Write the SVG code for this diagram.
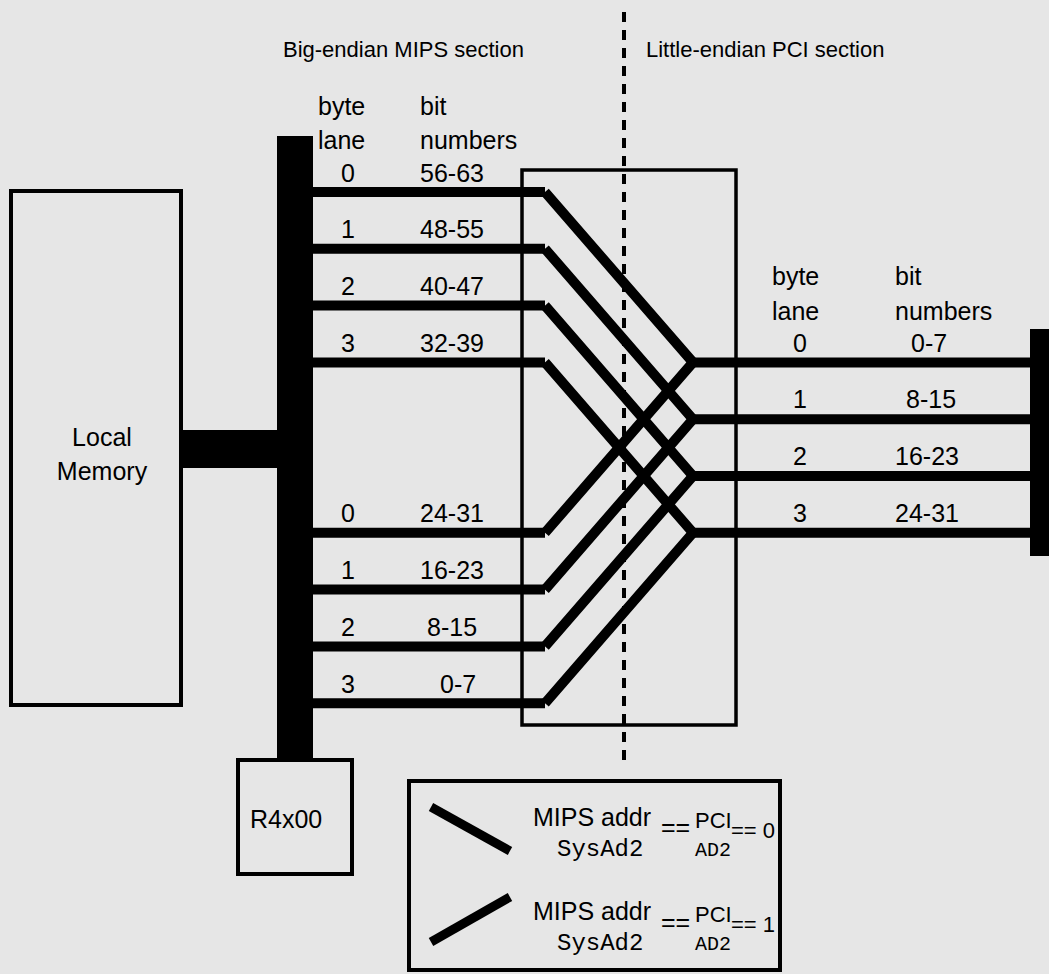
<svg xmlns="http://www.w3.org/2000/svg" width="1049" height="974" viewBox="0 0 1049 974">
<style>
.t{font-family:"Liberation Sans",Arial,sans-serif;font-size:25px;fill:#000}
.h{font-family:"Liberation Sans",Arial,sans-serif;font-size:22px;fill:#000}
.s{font-family:"Liberation Sans",Arial,sans-serif;font-size:22px;fill:#000}
.m{font-family:"Liberation Mono","Courier New",monospace;font-size:24px;fill:#000}
.ms{font-family:"Liberation Mono","Courier New",monospace;font-size:20px;fill:#000}
.box{fill:none;stroke:#000;stroke-width:4}
.w{stroke:#000;stroke-width:10;fill:none;stroke-linecap:butt}
.lw{stroke:#000;stroke-width:9;fill:none}
</style>
<rect width="1049" height="974" fill="#e6e6e6"/>
<line x1="624" y1="12" x2="624" y2="762" stroke="#000" stroke-width="4" stroke-dasharray="10 8"/>
<text class="h" x="283" y="57">Big-endian MIPS section</text>
<text class="h" x="646" y="57">Little-endian PCI section</text>
<g id="local-memory">
<rect class="box" x="11" y="191" width="170" height="514"/>
<text class="t" x="102" y="446" text-anchor="middle">Local</text>
<text class="t" x="102" y="480" text-anchor="middle">Memory</text>
</g>
<g id="mips-bus">
<rect x="277" y="136" width="36" height="622" fill="#000"/>
<text class="t" x="318" y="115">byte</text>
<text class="t" x="420" y="115">bit</text>
<text class="t" x="318" y="149">lane</text>
<text class="t" x="420" y="149">numbers</text>
<text class="t" x="341" y="181.5">0</text><text class="t" x="420" y="181.5">56-63</text>
<text class="t" x="341" y="238.3">1</text><text class="t" x="420" y="238.3">48-55</text>
<text class="t" x="341" y="295">2</text><text class="t" x="420" y="295">40-47</text>
<text class="t" x="341" y="352">3</text><text class="t" x="420" y="352">32-39</text>
<text class="t" x="341" y="522">0</text><text class="t" x="420" y="522">24-31</text>
<text class="t" x="341" y="579">1</text><text class="t" x="420" y="579">16-23</text>
<text class="t" x="341" y="636">2</text><text class="t" x="427" y="636">8-15</text>
<text class="t" x="341" y="693">3</text><text class="t" x="440" y="693">0-7</text>
</g>
<g id="r4x00">
<rect class="box" x="238" y="760" width="114" height="114"/>
<text class="t" x="250" y="828">R4x00</text>
</g>
<g id="swap-box">
<rect x="522" y="170" width="214" height="555" fill="none" stroke="#000" stroke-width="3.5"/>
</g>
<g id="pci-bus">
<rect x="1030" y="329" width="20" height="227" fill="#000"/>
<text class="t" x="772" y="285">byte</text>
<text class="t" x="895" y="285">bit</text>
<text class="t" x="772" y="320">lane</text>
<text class="t" x="895" y="320">numbers</text>
<text class="t" x="793" y="351.5">0</text><text class="t" x="911" y="351.5">0-7</text>
<text class="t" x="793" y="408">1</text><text class="t" x="906" y="408">8-15</text>
<text class="t" x="793" y="465">2</text><text class="t" x="895" y="465">16-23</text>
<text class="t" x="793" y="522">3</text><text class="t" x="895" y="522">24-31</text>
</g>
<g id="connectors">
<rect x="183" y="430" width="94" height="38" fill="#000"/>
<path class="w" d="M313 192H545M313 248.8H545M313 305.6H545M313 362.4H545M313 532.8H545M313 589.6H545M313 646.4H545M313 703.2H545"/>
<path class="w" d="M545 192L693 362.4M545 248.8L693 419.2M545 305.6L693 476M545 362.4L693 532.8"/>
<path class="w" d="M545 532.8L693 362.4M545 589.6L693 419.2M545 646.4L693 476M545 703.2L693 532.8"/>
<path class="w" d="M693 362.4H1030M693 419.2H1030M693 476H1030M693 532.8H1030"/>
</g>
<g id="legend">
<rect class="box" x="409" y="781" width="371" height="189"/>
<line class="lw" x1="431" y1="807" x2="510" y2="851"/>
<line class="lw" x1="431" y1="942" x2="510" y2="897"/>
<text class="t" x="533" y="826">MIPS addr</text>
<text class="m" x="557" y="856">SysAd2</text>
<text class="t" x="661" y="836">==</text>
<text class="s" x="695" y="828">PCI</text>
<text class="ms" x="695" y="856">AD2</text>
<text class="s" x="731" y="838">== 0</text>
<text class="t" x="533" y="920">MIPS addr</text>
<text class="m" x="557" y="950">SysAd2</text>
<text class="t" x="661" y="931">==</text>
<text class="s" x="695" y="922">PCI</text>
<text class="ms" x="695" y="950">AD2</text>
<text class="s" x="731" y="932">== 1</text>
</g>
</svg>
